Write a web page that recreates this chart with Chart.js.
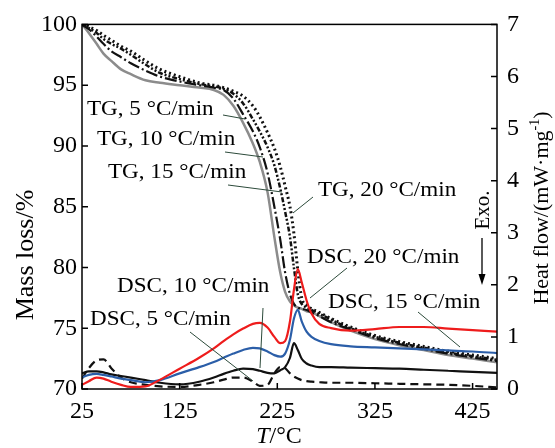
<!DOCTYPE html>
<html>
<head>
<meta charset="utf-8">
<script src="https://cdn.jsdelivr.net/npm/chart.js@4.4.1/dist/chart.umd.min.js"></script>
<style>
  body { margin: 0; background: #fff; }
  canvas { display: block; }
</style>
</head>
<body>
<canvas id="chart" width="555" height="448"></canvas>
<script>
// temperature grid (°C) shared by all curves
const temps = [25, 32, 40, 47, 55, 65, 75, 90, 105, 125, 145, 160, 170, 180, 190, 200, 207, 215, 222, 228, 233, 238, 242, 246, 250, 255, 260, 268, 280, 300, 325, 350, 375, 400, 425, 450];

// TG curves, mass loss %
const tg5 = [100, 99.3, 98.4, 97.6, 97.0, 96.3, 95.9, 95.4, 95.2, 95.0, 94.8, 94.6, 94.2, 93.3, 91.9, 90.2, 88.7, 86.2, 82.5, 79.6, 78.0, 77.2, 76.9, 76.7, 76.6, 76.4, 76.3, 76.0, 75.5, 74.8, 74.1, 73.6, 73.2, 72.8, 72.5, 72.2];
const tg10 = [100, 99.6, 99.0, 98.4, 97.8, 97.3, 96.8, 96.2, 95.7, 95.3, 95.0, 94.8, 94.6, 93.9, 92.6, 91.2, 89.9, 87.8, 85.0, 82.3, 79.6, 77.8, 77.0, 76.7, 76.6, 76.5, 76.3, 76.0, 75.5, 74.9, 74.2, 73.7, 73.3, 72.9, 72.6, 72.3];
const tg15 = [100, 99.7, 99.3, 98.8, 98.4, 98.0, 97.5, 96.7, 96.0, 95.5, 95.1, 94.9, 94.7, 94.3, 93.5, 92.2, 91.2, 89.9, 88.4, 86.5, 84.6, 82.5, 80.0, 77.8, 77.0, 76.7, 76.5, 76.2, 75.7, 75.0, 74.3, 73.8, 73.4, 73.0, 72.7, 72.4];
const tg20 = [100, 99.8, 99.5, 99.1, 98.7, 98.2, 97.8, 97.0, 96.3, 95.7, 95.2, 95.0, 94.8, 94.5, 94.1, 93.3, 92.4, 91.1, 89.8, 88.3, 86.7, 85.0, 82.8, 79.8, 77.5, 76.9, 76.6, 76.3, 75.8, 75.1, 74.4, 73.9, 73.5, 73.1, 72.8, 72.5];

// DSC curves, heat flow mW/mg
const dsc5 = [0.2, 0.4, 0.55, 0.57, 0.4, 0.22, 0.13, 0.08, 0.05, 0.04, 0.08, 0.13, 0.18, 0.22, 0.22, 0.14, 0.06, 0.08, 0.3, 0.42, 0.4, 0.3, 0.24, 0.2, 0.17, 0.15, 0.14, 0.13, 0.12, 0.12, 0.11, 0.1, 0.09, 0.08, 0.06, 0.03];
const dsc10 = [0.3, 0.34, 0.34, 0.32, 0.28, 0.25, 0.22, 0.17, 0.12, 0.09, 0.14, 0.22, 0.29, 0.35, 0.39, 0.38, 0.35, 0.31, 0.3, 0.36, 0.42, 0.6, 0.88, 0.75, 0.58, 0.49, 0.45, 0.42, 0.42, 0.41, 0.40, 0.39, 0.37, 0.35, 0.33, 0.31];
const dsc15 = [0.22, 0.27, 0.29, 0.27, 0.24, 0.2, 0.17, 0.13, 0.17, 0.3, 0.42, 0.52, 0.6, 0.68, 0.75, 0.79, 0.78, 0.72, 0.65, 0.62, 0.68, 0.95, 1.35, 1.52, 1.3, 1.1, 1.0, 0.92, 0.86, 0.82, 0.8, 0.78, 0.76, 0.74, 0.72, 0.69];
const dsc20 = [0.08, 0.15, 0.22, 0.2, 0.14, 0.08, 0.04, 0.05, 0.18, 0.39, 0.6, 0.78, 0.92, 1.05, 1.16, 1.25, 1.27, 1.18, 1.0, 0.88, 0.92, 1.3, 1.9, 2.3, 2.05, 1.7, 1.45, 1.25, 1.17, 1.12, 1.15, 1.19, 1.19, 1.16, 1.13, 1.10];

const xTicks = [25, 125, 225, 325, 425];

const serif = '"Liberation Serif", "Times New Roman", serif';

function pts(vals) {
    return temps.map((t, i) => ({ x: t, y: vals[i] }));
}

function line(label, vals, axis, color, width, dash) {
    return {
        label: label,
        data: pts(vals),
        yAxisID: axis,
        borderColor: color,
        borderWidth: width,
        borderDash: dash || [],
        pointRadius: 0,
        cubicInterpolationMode: "monotone",
        fill: false
    };
}

// annotation labels and their leader lines
const notes = [
    { text: "TG, 5 °C/min", x: 87, y: 108, lx: [223, 245], ly: [115, 119] },
    { text: "TG, 10 °C/min", x: 97, y: 138, lx: [225, 263], ly: [152, 157] },
    { text: "TG, 15 °C/min", x: 108, y: 171, lx: [228, 282], ly: [185, 192] },
    { text: "TG, 20 °C/min", x: 318, y: 189, lx: [313, 293], ly: [197, 213] },
    { text: "DSC, 20 °C/min", x: 307, y: 256, lx: [347, 310], ly: [268, 298] },
    { text: "DSC, 15 °C/min", x: 328, y: 301, lx: [418, 460], ly: [312, 347] },
    { text: "DSC, 10 °C/min", x: 117, y: 285, lx: [263, 260], ly: [308, 368] },
    { text: "DSC, 5 °C/min", x: 90, y: 318, lx: [190, 253], ly: [332, 381] }
];

const framePlugin = {
    id: "frame",
    afterDatasetsDraw(chart) {
        const ctx = chart.ctx;
        const a = chart.chartArea;
        const sx = chart.scales.x, sy = chart.scales.y, sy1 = chart.scales.y1;
        ctx.save();
        ctx.strokeStyle = "#000";
        ctx.lineWidth = 1.5;
        ctx.strokeRect(a.left, a.top, a.right - a.left, a.bottom - a.top);
        ctx.beginPath();
        sy.ticks.forEach(t => {
            const y = sy.getPixelForValue(t.value);
            ctx.moveTo(a.left, y); ctx.lineTo(a.left + 6, y);
        });
        sy1.ticks.forEach(t => {
            const y = sy1.getPixelForValue(t.value);
            ctx.moveTo(a.right, y); ctx.lineTo(a.right - 6, y);
        });
        sx.ticks.forEach(t => {
            const x = sx.getPixelForValue(t.value);
            ctx.moveTo(x, a.bottom); ctx.lineTo(x, a.bottom - 6);
        });
        ctx.stroke();

        // leader lines
        ctx.strokeStyle = "#2c4a3a";
        ctx.lineWidth = 1;
        ctx.beginPath();
        notes.forEach(n => {
            ctx.moveTo(n.lx[0], n.ly[0]);
            ctx.lineTo(n.lx[1], n.ly[1]);
        });
        ctx.stroke();

        // annotation text, slightly widened like the original typeface
        ctx.fillStyle = "#000";
        ctx.font = "21px " + serif;
        ctx.textAlign = "left";
        ctx.textBaseline = "alphabetic";
        notes.forEach(n => {
            ctx.save();
            ctx.translate(n.x, n.y + 7);
            ctx.scale(1.1, 1);
            ctx.fillText(n.text, 0, 0);
            ctx.restore();
        });

        // left axis title
        ctx.save();
        ctx.translate(33, 255);
        ctx.rotate(-Math.PI / 2);
        ctx.textAlign = "center";
        ctx.font = "26px " + serif;
        ctx.fillText("Mass loss/%", 0, 0);
        ctx.restore();

        // right axis title with superscript
        ctx.save();
        ctx.translate(548, 208);
        ctx.rotate(-Math.PI / 2);
        const main = "Heat flow/(mW·mg";
        ctx.font = "22px " + serif;
        const w1 = ctx.measureText(main).width;
        ctx.font = "14px " + serif;
        const w2 = ctx.measureText("-1").width;
        ctx.font = "22px " + serif;
        const w3 = ctx.measureText(")").width;
        const x0 = -(w1 + w2 + w3) / 2;
        ctx.textAlign = "left";
        ctx.fillText(main, x0, 0);
        ctx.font = "14px " + serif;
        ctx.fillText("-1", x0 + w1, -9);
        ctx.font = "22px " + serif;
        ctx.fillText(")", x0 + w1 + w2, 0);
        ctx.restore();

        // x axis title, italic T
        ctx.save();
        ctx.font = "italic 24px " + serif;
        const wt = ctx.measureText("T").width;
        ctx.font = "24px " + serif;
        const wr = ctx.measureText("/°C").width;
        const tx = 279 - (wt + wr) / 2;
        ctx.textAlign = "left";
        ctx.font = "italic 24px " + serif;
        ctx.fillText("T", tx, 443);
        ctx.font = "24px " + serif;
        ctx.fillText("/°C", tx + wt, 443);
        ctx.restore();

        // Exo. marker with arrow
        ctx.save();
        ctx.translate(489, 210);
        ctx.rotate(-Math.PI / 2);
        ctx.font = "21px " + serif;
        ctx.textAlign = "center";
        ctx.fillText("Exo.", 0, 0);
        ctx.restore();
        ctx.save();
        ctx.strokeStyle = "#000";
        ctx.lineWidth = 1.3;
        ctx.beginPath();
        ctx.moveTo(482, 238); ctx.lineTo(482, 282);
        ctx.stroke();
        ctx.beginPath();
        ctx.moveTo(482, 285); ctx.lineTo(478.5, 274); ctx.lineTo(485.5, 274);
        ctx.closePath();
        ctx.fill();
        ctx.restore();

        ctx.restore();
    }
};

new Chart(document.getElementById("chart"), {
    type: "line",
    data: {
        datasets: [
            line("DSC, 20 °C/min", dsc20, "y1", "#ee1c1c", 2.2),
            line("DSC, 15 °C/min", dsc15, "y1", "#2b5ea8", 2.2),
            line("DSC, 10 °C/min", dsc10, "y1", "#111", 2.2),
            line("DSC, 5 °C/min", dsc5, "y1", "#111", 2.2, [8, 5]),
            line("TG, 20 °C/min", tg20, "y", "#111", 3, [2, 3]),
            line("TG, 15 °C/min", tg15, "y", "#111", 2.5, [5, 2, 2, 2, 2, 2]),
            line("TG, 10 °C/min", tg10, "y", "#111", 2.2, [12, 3, 2, 3]),
            line("TG, 5 °C/min", tg5, "y", "#8c8c8c", 2.5)
        ]
    },
    options: {
        responsive: false,
        animation: false,
        layout: { padding: { top: 15, left: 0, right: 0, bottom: 0 } },
        plugins: { legend: { display: false }, tooltip: { enabled: false } },
        scales: {
            x: {
                type: "linear",
                min: 25,
                max: 450,
                afterBuildTicks: scale => { scale.ticks = xTicks.map(v => ({ value: v })); },
                afterFit: scale => { scale.height = 59; },
                grid: { display: false, drawTicks: false },
                border: { display: false },
                ticks: { color: "#000", padding: 8, maxRotation: 0, font: { family: serif, size: 24 } }
            },
            y: {
                position: "left",
                min: 70,
                max: 100,
                afterFit: scale => { scale.width = 82; },
                grid: { display: false, drawTicks: false },
                border: { display: false },
                ticks: { stepSize: 5, color: "#000", padding: 5, font: { family: serif, size: 24 } }
            },
            y1: {
                position: "right",
                min: 0,
                max: 7,
                afterFit: scale => { scale.width = 58; },
                grid: { display: false, drawTicks: false },
                border: { display: false },
                ticks: { stepSize: 1, color: "#000", padding: 10, font: { family: serif, size: 24 } }
            }
        }
    },
    plugins: [framePlugin]
});
</script>
</body>
</html>
